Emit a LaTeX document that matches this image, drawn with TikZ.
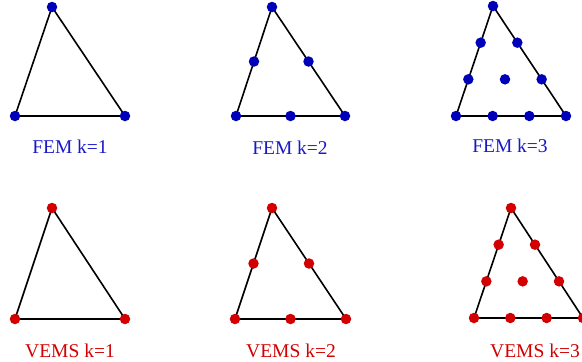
\documentclass[tikz,border=0pt]{standalone}
\usepackage{fontspec}
\setmainfont{Liberation Serif}
\usepackage{tikz}
\usetikzlibrary{calc}
\definecolor{femblue}{RGB}{0,0,185}
\definecolor{femtext}{RGB}{25,25,200}
\definecolor{vemred}{RGB}{210,0,0}
\tikzset{
  femdot/.style={circle, fill=femblue, minimum size=10.5pt, inner sep=0pt},
  vemdot/.style={circle, fill=vemred, minimum size=10.5pt, inner sep=0pt},
  edge/.style={draw=black, line width=1.6pt},
  femlabel/.style={anchor=base, text=femtext, font=\fontsize{19.5}{22}\selectfont},
  vemlabel/.style={anchor=base, text=vemred, font=\fontsize{19.5}{22}\selectfont},
}

\begin{document}
\begin{tikzpicture}[x=1pt,y=-1pt]
  \useasboundingbox (0,0) rectangle (582,362);

  % FEM k=1
  \coordinate (FA) at (52,7);
  \coordinate (FB) at (15,116);
  \coordinate (FC) at (125,116);
  \draw[edge] (FA) -- (FB) -- (FC) -- cycle;
  \node[femdot] (fa) at (FA) {};
  \node[femdot] (fb) at (FB) {};
  \node[femdot] (fc) at (FC) {};
  \node[femlabel] (lfa) at (70,153) {FEM k=1};

  % FEM k=2
  \coordinate (GA) at (272,7);
  \coordinate (GB) at (236,116);
  \coordinate (GC) at (345,116);
  \draw[edge] (GA) -- (GB) -- (GC) -- cycle;
  \node[femdot] (ga) at (GA) {};
  \node[femdot] (gb) at (GB) {};
  \node[femdot] (gc) at (GC) {};
  \node[femdot] (gab) at ($(GA)!0.5!(GB)$) {};
  \node[femdot] (gbc) at ($(GB)!0.5!(GC)$) {};
  \node[femdot] (gca) at ($(GC)!0.5!(GA)$) {};
  \node[femlabel] (lfb) at (290,154) {FEM k=2};

  % FEM k=3
  \coordinate (HA) at (493,6);
  \coordinate (HB) at (456,116);
  \coordinate (HC) at (566,116);
  \draw[edge] (HA) -- (HB) -- (HC) -- cycle;
  \node[femdot] (ha) at (HA) {};
  \node[femdot] (hb) at (HB) {};
  \node[femdot] (hc) at (HC) {};
  \foreach \t in {1,2}{
    \node[femdot] (hab\t) at ($(HA)!\t/3!(HB)$) {};
    \node[femdot] (hbc\t) at ($(HB)!\t/3!(HC)$) {};
    \node[femdot] (hca\t) at ($(HC)!\t/3!(HA)$) {};
  }
  \node[femdot] (hm) at ($1/3*(HA)+1/3*(HB)+1/3*(HC)$) {};
  \node[femlabel] (lfc) at (510,152) {FEM k=3};

  % VEMS k=1
  \coordinate (VA) at (52,208);
  \coordinate (VB) at (15,319);
  \coordinate (VC) at (125,319);
  \draw[edge] (VA) -- (VB) -- (VC) -- cycle;
  \node[vemdot] (va) at (VA) {};
  \node[vemdot] (vb) at (VB) {};
  \node[vemdot] (vc) at (VC) {};
  \node[vemlabel] (lva) at (70,357) {VEMS k=1};

  % VEMS k=2
  \coordinate (WA) at (272,208);
  \coordinate (WB) at (235,319);
  \coordinate (WC) at (346,319);
  \draw[edge] (WA) -- (WB) -- (WC) -- cycle;
  \node[vemdot] (wa) at (WA) {};
  \node[vemdot] (wb) at (WB) {};
  \node[vemdot] (wc) at (WC) {};
  \node[vemdot] (wab) at ($(WA)!0.5!(WB)$) {};
  \node[vemdot] (wbc) at ($(WB)!0.5!(WC)$) {};
  \node[vemdot] (wca) at ($(WC)!0.5!(WA)$) {};
  \node[vemlabel] (lvb) at (291,357) {VEMS k=2};

  % VEMS k=3
  \coordinate (UA) at (511,208);
  \coordinate (UB) at (474,318);
  \coordinate (UC) at (583,318);
  \draw[edge] (UA) -- (UB) -- (UC) -- cycle;
  \node[vemdot] (ua) at (UA) {};
  \node[vemdot] (ub) at (UB) {};
  \node[vemdot] (uc) at (UC) {};
  \foreach \t in {1,2}{
    \node[vemdot] (uab\t) at ($(UA)!\t/3!(UB)$) {};
    \node[vemdot] (ubc\t) at ($(UB)!\t/3!(UC)$) {};
    \node[vemdot] (uca\t) at ($(UC)!\t/3!(UA)$) {};
  }
  \node[vemdot] (um) at ($1/3*(UA)+1/3*(UB)+1/3*(UC)$) {};
  \node[vemlabel] (lvc) at (535,357) {VEMS k=3};
\end{tikzpicture}
\end{document}
